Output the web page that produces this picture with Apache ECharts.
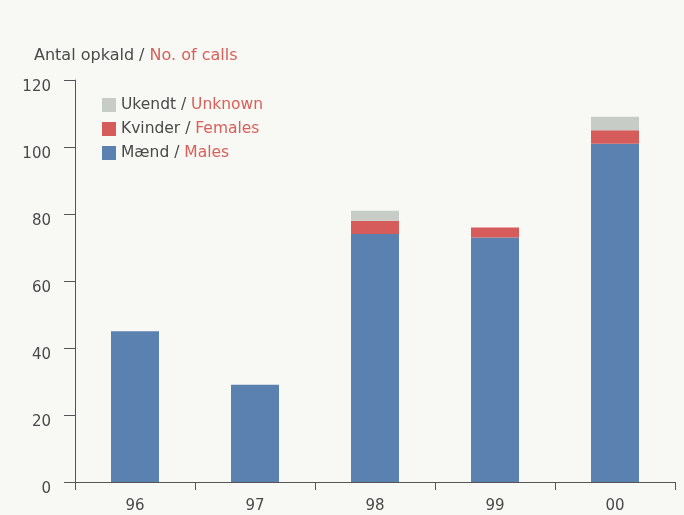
<!DOCTYPE html>
<html>
<head>
<meta charset="utf-8">
<script src="https://cdn.jsdelivr.net/npm/echarts@6/dist/echarts.min.js"></script>
<style>
html,body{margin:0;padding:0;background:#f8f8f4;}
#c{width:684px;height:515px;}
</style>
</head>
<body>
<div id="c"></div>
<script>
const categories = ['96', '97', '98', '99', '00'];
const males = [45, 29, 74, 73, 101];
const females = [0, 0, 4, 3, 4];
const unknown = [0, 0, 3, 0, 4];
const seriesNames = ['Mænd / Males', 'Kvinder / Females', 'Ukendt / Unknown'];
const yTicks = { min: 0, max: 120, interval: 20 };

const font = 'DejaVu Sans';
const dark = '#4a4a4a';
const red = '#d8605a';

const chart = echarts.init(document.getElementById('c'));
chart.setOption({
  backgroundColor: '#f8f8f4',
  animation: false,
  title: {
    left: 29, top: 43,
    text: '{a|Antal opkald / }{b|No. of calls}',
    textStyle: {
      fontWeight: 'normal',
      rich: {
        a: { color: dark, fontSize: 16, fontFamily: font, fontWeight: 'normal' },
        b: { color: red, fontSize: 16, fontFamily: font, fontWeight: 'normal' }
      }
    }
  },
  legend: {
    orient: 'vertical', left: 97, top: 92,
    icon: 'rect',
    itemWidth: 14, itemHeight: 14, itemGap: 8,
    data: [seriesNames[2], seriesNames[1], seriesNames[0]],
    formatter: function (name) {
      const p = name.split(' / ');
      return '{a|' + p[0] + ' / }{b|' + p[1] + '}';
    },
    textStyle: {
      rich: {
        a: { color: dark, fontSize: 15.5, fontFamily: font },
        b: { color: red, fontSize: 15.5, fontFamily: font }
      }
    }
  },
  grid: { left: 75, right: 9, top: 80, bottom: 33, containLabel: false },
  xAxis: {
    type: 'category', data: categories,
    axisLine: { lineStyle: { color: '#555', width: 1 } },
    axisTick: { show: true, length: 8, lineStyle: { color: '#555' } },
    axisLabel: { color: dark, fontSize: 15, fontFamily: font, margin: 17 }
  },
  yAxis: {
    type: 'value', min: yTicks.min, max: yTicks.max, interval: yTicks.interval,
    axisLine: { show: true, lineStyle: { color: '#555', width: 1 } },
    axisTick: { show: true, length: 11, lineStyle: { color: '#555' } },
    splitLine: { show: false },
    axisLabel: { color: dark, fontSize: 15, fontFamily: font, margin: 24, verticalAlign: 'top' }
  },
  series: [
    { name: seriesNames[0], type: 'bar', stack: 't', data: males, barWidth: 48, itemStyle: { color: '#5b81b1' } },
    { name: seriesNames[1], type: 'bar', stack: 't', data: females, barWidth: 48, itemStyle: { color: '#d65b5b' } },
    { name: seriesNames[2], type: 'bar', stack: 't', data: unknown, barWidth: 48, itemStyle: { color: '#c8ccc6' } }
  ]
});
</script>
</body>
</html>
